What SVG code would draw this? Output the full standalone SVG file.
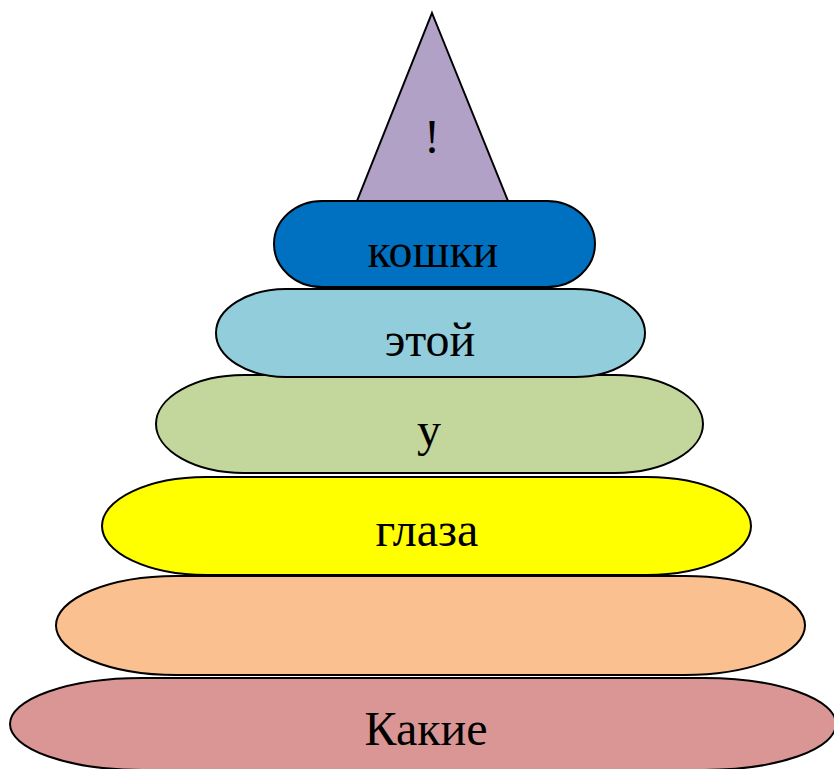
<svg xmlns="http://www.w3.org/2000/svg" width="834" height="769" viewBox="0 0 834 769">
  <style>
    .ring { stroke: #000; stroke-width: 2; }
    .lbl { font-family: "Liberation Serif", "Times New Roman", serif; font-size: 48px; fill: #000; text-anchor: middle; }
  </style>
  <rect width="834" height="769" fill="#fff"/>
  <!-- pyramid of rings, from the base upward -->
  <g id="ring-6">
    <rect class="ring" x="10" y="678" width="826" height="92" rx="132" ry="46" fill="#D99694"/>
    <text class="lbl" x="426" y="745">Какие</text>
  </g>
  <g id="ring-5">
    <rect class="ring" x="56" y="576" width="749" height="99" rx="120" ry="49.5" fill="#FAC090"/>
  </g>
  <g id="ring-4">
    <rect class="ring" x="102" y="477" width="649" height="98" rx="104" ry="49" fill="#FFFF00"/>
    <text class="lbl" x="427" y="546">глаза</text>
  </g>
  <g id="ring-3">
    <rect class="ring" x="156" y="375" width="547" height="98" rx="88" ry="49" fill="#C3D69B"/>
    <text class="lbl" x="429" y="446">у</text>
  </g>
  <g id="ring-2">
    <rect class="ring" x="216" y="289" width="429" height="88" rx="70" ry="44" fill="#92CDDC"/>
    <text class="lbl" x="430" y="356">этой</text>
  </g>
  <g id="ring-1">
    <rect class="ring" x="274" y="201" width="321" height="86" rx="48" ry="43" fill="#0070C0"/>
    <text class="lbl" x="433" y="267">кошки</text>
  </g>
  <g id="top">
    <polygon class="ring" points="432,13 508,201 357,201" fill="#B2A1C7"/>
    <text class="lbl" x="432" y="153">!</text>
  </g>
</svg>
